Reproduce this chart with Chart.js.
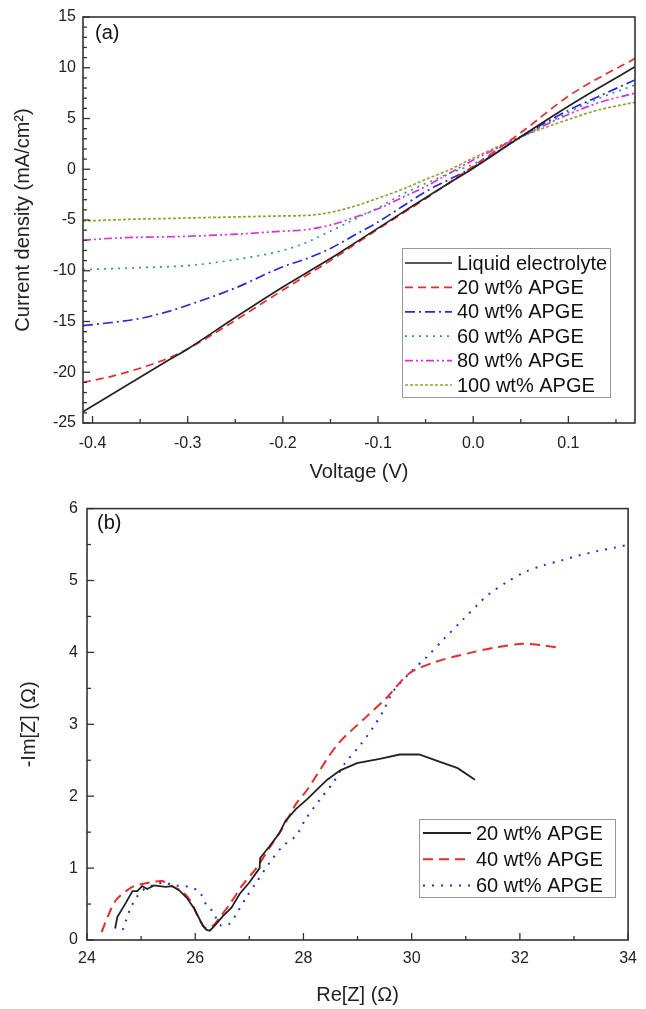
<!DOCTYPE html>
<html>
<head>
<meta charset="utf-8">
<script src="https://cdn.jsdelivr.net/npm/chart.js@4.4.1/dist/chart.umd.min.js"></script>
<style>
  body { margin: 0; background: #fff; }
  canvas { display: block; }
</style>
</head>
<body>
<canvas id="jv" width="646" height="490"></canvas>
<canvas id="eis" width="646" height="519"></canvas>
<script>
// ---- (a) J-V curves ----
const voltage = [-0.41, -0.38, -0.35, -0.32, -0.30, -0.25, -0.20, -0.175, -0.15, -0.125, -0.10, -0.075, -0.05, -0.025, 0.00, 0.05, 0.10, 0.13, 0.17];
const liquidJ = [-23.9, -22.2, -20.5, -18.8, -17.7, -14.6, -11.6, -10.2, -8.8, -7.3, -5.8, -4.3, -2.8, -1.35, 0.1, 3.2, 6.2, 7.9, 10.1];
const apge20J = [-21.0, -20.4, -19.6, -18.6, -17.7, -14.9, -11.9, -10.45, -9.0, -7.45, -5.9, -4.4, -2.9, -1.3, 0.3, 3.6, 7.2, 8.9, 10.9];
const apge40J = [-15.4, -15.1, -14.7, -14.0, -13.4, -11.7, -9.6, -8.8, -7.8, -6.5, -5.2, -3.7, -2.2, -1.0, 0.2, 3.2, 5.8, 7.1, 8.8];
const apge60J = [-9.9, -9.8, -9.7, -9.6, -9.5, -8.9, -8.0, -7.2, -6.1, -4.95, -3.8, -2.5, -1.4, -0.4, 0.5, 3.1, 5.6, 6.9, 8.3];
const apge80J = [-7.0, -6.8, -6.7, -6.65, -6.6, -6.4, -6.1, -5.95, -5.5, -4.75, -3.9, -2.8, -1.7, -0.4, 0.9, 3.2, 5.4, 6.5, 7.5];
const apge100J = [-5.1, -5.0, -4.9, -4.85, -4.8, -4.7, -4.6, -4.55, -4.25, -3.65, -2.85, -2.0, -1.0, -0.05, 1.1, 3.2, 4.9, 5.8, 6.6];
const voltageTicks = [-0.4, -0.3, -0.2, -0.1, 0.0, 0.1];
const currentTicks = [-25, -20, -15, -10, -5, 0, 5, 10, 15];

// ---- (b) Nyquist plots ----
const reZ20 = [24.52, 24.56, 24.72, 24.84, 24.93, 25.02, 25.11, 25.24, 25.45, 25.57, 25.72, 25.84, 25.97, 26.06, 26.14, 26.21, 26.27, 26.36, 26.52, 26.67, 26.82, 27.0, 27.19, 27.2, 27.37, 27.55, 27.67, 27.86, 28.07, 28.44, 28.68, 28.99, 29.41, 29.78, 30.14, 30.51, 30.85, 31.17];
const imZ20 = [0.16, 0.32, 0.52, 0.68, 0.68, 0.75, 0.71, 0.76, 0.74, 0.75, 0.68, 0.59, 0.45, 0.32, 0.20, 0.14, 0.13, 0.20, 0.34, 0.45, 0.64, 0.80, 1.0, 1.14, 1.30, 1.48, 1.66, 1.82, 1.96, 2.23, 2.36, 2.46, 2.52, 2.58, 2.58, 2.48, 2.39, 2.23];
const reZ40 = [24.27, 24.38, 24.53, 24.72, 24.87, 25.02, 25.24, 25.39, 25.57, 25.75, 25.91, 26.03, 26.12, 26.21, 26.33, 26.46, 26.64, 26.88, 27.13, 27.37, 27.61, 27.86, 28.07, 28.62, 29.17, 29.54, 29.96, 30.45, 31.06, 31.55, 32.07, 32.40, 32.68];
const imZ40 = [0.11, 0.32, 0.55, 0.68, 0.75, 0.78, 0.81, 0.82, 0.75, 0.68, 0.55, 0.36, 0.23, 0.16, 0.20, 0.32, 0.50, 0.77, 1.0, 1.28, 1.55, 1.89, 2.09, 2.71, 3.11, 3.37, 3.71, 3.87, 3.99, 4.07, 4.12, 4.10, 4.07];
const reZ60 = [24.66, 24.72, 24.81, 24.93, 25.08, 25.27, 25.42, 25.60, 25.78, 25.94, 26.09, 26.18, 26.27, 26.36, 26.48, 26.64, 26.76, 26.94, 27.13, 27.37, 27.61, 27.86, 28.04, 28.31, 28.56, 28.77, 29.05, 29.29, 29.47, 29.66, 29.96, 30.27, 30.60, 30.94, 31.24, 31.43, 31.76, 32.10, 32.43, 32.77, 33.10, 33.44, 33.77, 33.96];
const imZ60 = [0.14, 0.27, 0.45, 0.61, 0.72, 0.77, 0.80, 0.76, 0.75, 0.73, 0.66, 0.52, 0.45, 0.34, 0.20, 0.23, 0.36, 0.59, 0.80, 1.07, 1.30, 1.45, 1.68, 1.96, 2.20, 2.46, 2.71, 2.96, 3.18, 3.46, 3.71, 3.93, 4.19, 4.45, 4.68, 4.81, 4.98, 5.12, 5.21, 5.28, 5.35, 5.41, 5.46, 5.49];
const reZTicks = [24, 26, 28, 30, 32, 34];
const imZTicks = [0, 1, 2, 3, 4, 5, 6];

Chart.defaults.font.family = "'Liberation Sans', Arial, sans-serif";
Chart.defaults.color = '#222';

function toPoints(xs, ys) {
  return xs.map((x, i) => ({ x: x, y: ys[i] }));
}

function series(label, xs, ys, color, dash, extra) {
  return Object.assign({
    label: label,
    data: toPoints(xs, ys),
    showLine: true,
    borderColor: color,
    backgroundColor: color,
    borderWidth: 1.7,
    borderDash: dash,
    pointRadius: 0,
    fill: false,
  }, extra || {});
}

// frame, inward ticks, panel letter and legend box
const decorPlugin = {
  id: 'decor',
  afterDraw(chart, args, opts) {
    const { ctx, chartArea: a, scales } = chart;
    ctx.save();

    // inward ticks on left and bottom axes
    ctx.strokeStyle = '#333';
    ctx.lineWidth = 1.3;
    const tickRun = (scale, from, to, step, majors, horizontal) => {
      for (let v = from; v <= to + step / 100; v += step) {
        const val = Math.round(v * 1000) / 1000;
        const isMajor = majors.some(m => Math.abs(m - val) < step / 10);
        const len = isMajor ? 7 : 4;
        const p = scale.getPixelForValue(val);
        ctx.beginPath();
        if (horizontal) {
          ctx.moveTo(p, a.bottom);
          ctx.lineTo(p, a.bottom - len);
        } else {
          ctx.moveTo(a.left, p);
          ctx.lineTo(a.left + len, p);
        }
        ctx.stroke();
      }
    };
    tickRun(scales.x, opts.xMinor[0], opts.xMinor[1], opts.xMinor[2], opts.xMajor, true);
    tickRun(scales.y, opts.yMinor[0], opts.yMinor[1], opts.yMinor[2], opts.yMajor, false);

    // frame
    ctx.lineWidth = 1.6;
    ctx.strokeStyle = '#333';
    ctx.strokeRect(a.left, a.top, a.right - a.left, a.bottom - a.top);

    // panel letter
    ctx.fillStyle = '#111';
    ctx.font = "20px 'Liberation Sans', Arial, sans-serif";
    ctx.textBaseline = 'middle';
    ctx.textAlign = 'left';
    ctx.fillText(opts.letter, a.left + opts.letterDx, a.top + opts.letterDy);

    // legend box
    const L = opts.legend;
    ctx.fillStyle = '#fff';
    ctx.fillRect(L.x, L.y, L.w, L.h);
    ctx.strokeStyle = '#999';
    ctx.lineWidth = 1;
    ctx.strokeRect(L.x + 0.5, L.y + 0.5, L.w, L.h);
    chart.data.datasets.forEach((ds, i) => {
      const cy = L.y + L.first + i * L.row;
      ctx.beginPath();
      ctx.strokeStyle = ds.borderColor;
      ctx.lineWidth = ds.borderWidth;
      ctx.setLineDash(ds.borderDash || []);
      ctx.moveTo(L.x + L.lineFrom, cy);
      ctx.lineTo(L.x + L.lineTo, cy);
      ctx.stroke();
      ctx.setLineDash([]);
      ctx.fillStyle = '#111';
      ctx.fillText(ds.label, L.x + L.textX, cy + 1);
    });
    ctx.restore();
  }
};

const tickFont = { size: 16 };
const titleFont = { size: 20 };

// ---- chart (a) ----
new Chart(document.getElementById('jv'), {
  type: 'scatter',
  data: {
    datasets: [
      series('Liquid electrolyte', voltage, liquidJ, '#222222', []),
      series('20 wt% APGE', voltage, apge20J, '#ee2a2a', [8, 5]),
      series('40 wt% APGE', voltage, apge40J, '#2626e6', [10, 4, 2, 4]),
      series('60 wt% APGE', voltage, apge60J, '#2a9a8c', [2, 5]),
      series('80 wt% APGE', voltage, apge80J, '#e02ae0', [8, 3, 2, 3, 2, 3]),
      series('100 wt% APGE', voltage, apge100J, '#a0a02a', [3, 2]),
    ].map(d => Object.assign(d, { cubicInterpolationMode: 'monotone' })),
  },
  options: {
    responsive: false,
    animation: false,
    layout: { padding: { left: 0, right: 11, top: 17, bottom: 0 } },
    plugins: {
      legend: { display: false },
      tooltip: { enabled: false },
      decor: {
        xMinor: [-0.4, 0.15, 0.05], xMajor: voltageTicks,
        yMinor: [-25, 15, 1], yMajor: currentTicks,
        letter: '(a)', letterDx: 12, letterDy: 16,
        legend: { x: 402, y: 248, w: 208, h: 149, first: 15, row: 24.4, lineFrom: 3, lineTo: 50, textX: 55 },
      },
    },
    scales: {
      x: {
        type: 'linear', min: -0.41, max: 0.17,
        afterBuildTicks: s => { s.ticks = voltageTicks.map(v => ({ value: v })); },
        afterFit: s => { s.height = 67; },
        ticks: { font: tickFont, padding: 11, maxRotation: 0, autoSkip: false, callback: v => v.toFixed(1) },
        grid: { display: false, drawTicks: false },
        border: { display: false },
        title: { display: true, text: 'Voltage (V)', font: titleFont, padding: { top: 0, bottom: 6 } },
      },
      y: {
        type: 'linear', min: -25, max: 15,
        afterBuildTicks: s => { s.ticks = currentTicks.map(v => ({ value: v })); },
        afterFit: s => { s.width = 83; },
        ticks: { font: tickFont, padding: 7, callback: v => String(v) },
        grid: { display: false, drawTicks: false },
        border: { display: false },
        title: { display: true, text: 'Current density (mA/cm²)', font: titleFont, padding: { top: 11, bottom: 0 } },
      },
    },
  },
  plugins: [decorPlugin],
});

// ---- chart (b) ----
new Chart(document.getElementById('eis'), {
  type: 'scatter',
  data: {
    datasets: [
      series('20 wt% APGE', reZ20, imZ20, '#222222', [], { borderWidth: 1.8 }),
      series('40 wt% APGE', reZ40, imZ40, '#ee2a2a', [10, 6], { borderWidth: 2, tension: 0.3 }),
      series('60 wt% APGE', reZ60, imZ60, '#2a2ae6', [2, 7], { borderWidth: 2, tension: 0.3 }),
    ],
  },
  options: {
    responsive: false,
    animation: false,
    layout: { padding: { left: 0, right: 12, top: 10, bottom: 0 } },
    plugins: {
      legend: { display: false },
      tooltip: { enabled: false },
      decor: {
        xMinor: [24, 34, 1], xMajor: reZTicks,
        yMinor: [0, 6, 0.5], yMajor: imZTicks,
        letter: '(b)', letterDx: 10, letterDy: 15,
        legend: { x: 419, y: 329, w: 196, h: 78, first: 14, row: 26.3, lineFrom: 4, lineTo: 52, textX: 57 },
      },
    },
    scales: {
      x: {
        type: 'linear', min: 24, max: 34,
        afterBuildTicks: s => { s.ticks = reZTicks.map(v => ({ value: v })); },
        afterFit: s => { s.height = 69; },
        ticks: { font: tickFont, padding: 9, maxRotation: 0, autoSkip: false, callback: v => String(v) },
        grid: { display: false, drawTicks: false },
        border: { display: false },
        title: { display: true, text: 'Re[Z] (Ω)', font: titleFont, padding: { top: 0, bottom: 2 } },
      },
      y: {
        type: 'linear', min: 0, max: 6,
        afterBuildTicks: s => { s.ticks = imZTicks.map(v => ({ value: v })); },
        afterFit: s => { s.width = 87; },
        ticks: { font: tickFont, padding: 9, callback: v => String(v) },
        grid: { display: false, drawTicks: false },
        border: { display: false },
        title: { display: true, text: '-Im[Z] (Ω)', font: titleFont, padding: { top: 17, bottom: 0 } },
      },
    },
  },
  plugins: [decorPlugin],
});
</script>
</body>
</html>
